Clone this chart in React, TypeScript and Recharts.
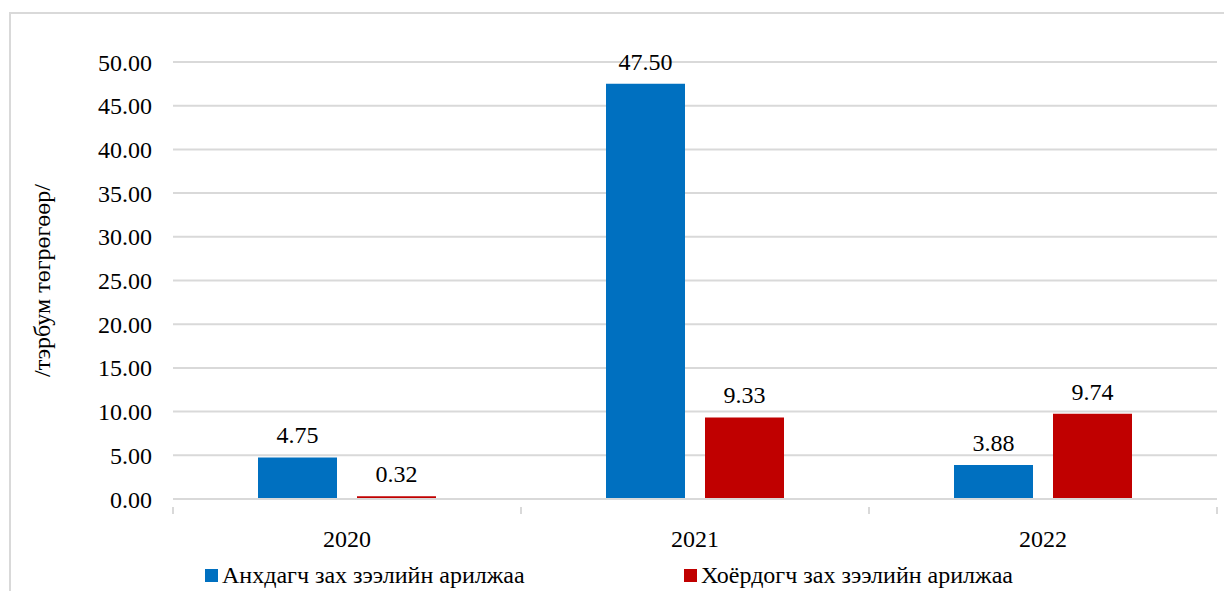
import { BarChart, Bar, XAxis, YAxis, CartesianGrid, Legend, LabelList } from "recharts";

const years = ["2020", "2021", "2022"];
const primaryMarket = [4.75, 47.5, 3.88];
const secondaryMarket = [0.32, 9.33, 9.74];
const yTicks = [0, 5, 10, 15, 20, 25, 30, 35, 40, 45, 50];

const primaryName = "Анхдагч зах зээлийн арилжаа";
const secondaryName = "Хоёрдогч зах зээлийн арилжаа";

const data = years.map((year, i) => ({
  year,
  primary: primaryMarket[i],
  secondary: secondaryMarket[i],
}));

const FONT = '"Liberation Serif", "Times New Roman", "DejaVu Serif", serif';
const GRID = "#d9d9d9";
const BAND = 348;

function CategoryTick({ x, y, payload, index }: any) {
  return (
    <g>
      {index === 0 && <line x1={x - BAND / 2} y1={y} x2={x - BAND / 2} y2={y + 7} stroke={GRID} strokeWidth={2} />}
      <line x1={x + BAND / 2} y1={y} x2={x + BAND / 2} y2={y + 7} stroke={GRID} strokeWidth={2} />
      <text x={x} y={y + 40} textAnchor="middle" fontFamily={FONT} fontSize={24} fill="#000">
        {payload.value}
      </text>
    </g>
  );
}

function LegendContent({ payload }: any) {
  const positions = [205, 684];
  return (
    <div style={{ position: "relative", height: 30, fontFamily: FONT, fontSize: 24 }}>
      {(payload || []).map((item: any, i: number) => (
        <div
          key={item.value}
          style={{ position: "absolute", left: positions[i], top: 0, display: "flex", alignItems: "center", whiteSpace: "nowrap" }}
        >
          <span style={{ width: 13, height: 13, background: item.color, display: "inline-block", marginRight: 4 }} />
          <span style={{ color: "#000" }}>{item.value}</span>
        </div>
      ))}
    </div>
  );
}

export default function App() {
  return (
    <div style={{ position: "absolute", left: 0, top: 0, width: 1224, height: 591, overflow: "hidden", background: "#fff" }}>
      <div
        style={{
          position: "absolute",
          left: 9,
          top: 12,
          width: 1400,
          height: 800,
          border: `2px solid ${GRID}`,
          boxSizing: "border-box",
        }}
      />
      <div style={{ position: "absolute", left: 0, top: 0 }}>
        <BarChart
          width={1224}
          height={591}
          data={data}
          margin={{ top: 62, right: 7, bottom: 62, left: 0 }}
          barSize={79}
          barGap={20}
        >
          <CartesianGrid vertical={false} stroke={GRID} strokeWidth={2} />
          <XAxis
            dataKey="year"
            axisLine={{ stroke: GRID, strokeWidth: 2 }}
            tickLine={false}
            tick={<CategoryTick />}
            interval={0}
          />
          <YAxis
            width={173}
            domain={[0, 50]}
            ticks={yTicks}
            allowDataOverflow
            axisLine={false}
            tickLine={false}
            tickSize={0}
            tickMargin={21}
            tickFormatter={(v: number) => v.toFixed(2)}
            tick={{ fontFamily: FONT, fontSize: 24, fill: "#000" }}
            label={{
              value: "/тэрбум төгрөгөөр/",
              angle: -90,
              position: "insideLeft",
              offset: 0,
              dx: 41,
              style: { fontFamily: FONT, fontSize: 24, fill: "#000", textAnchor: "middle" },
            }}
          />
          <Legend
            layout="horizontal"
            verticalAlign="middle"
            align="center"
            content={<LegendContent />}
            wrapperStyle={{ top: 562, left: 0, width: 1224 }}
          />
          <Bar dataKey="primary" name={primaryName} fill="#0070C0" isAnimationActive={false}>
            <LabelList
              dataKey="primary"
              position="top"
              offset={14}
              formatter={(v: any) => Number(v).toFixed(2)}
              style={{ fontFamily: FONT, fontSize: 24, fill: "#000" }}
            />
          </Bar>
          <Bar dataKey="secondary" name={secondaryName} fill="#C00000" isAnimationActive={false}>
            <LabelList
              dataKey="secondary"
              position="top"
              offset={14}
              formatter={(v: any) => Number(v).toFixed(2)}
              style={{ fontFamily: FONT, fontSize: 24, fill: "#000" }}
            />
          </Bar>
        </BarChart>
      </div>
    </div>
  );
}
